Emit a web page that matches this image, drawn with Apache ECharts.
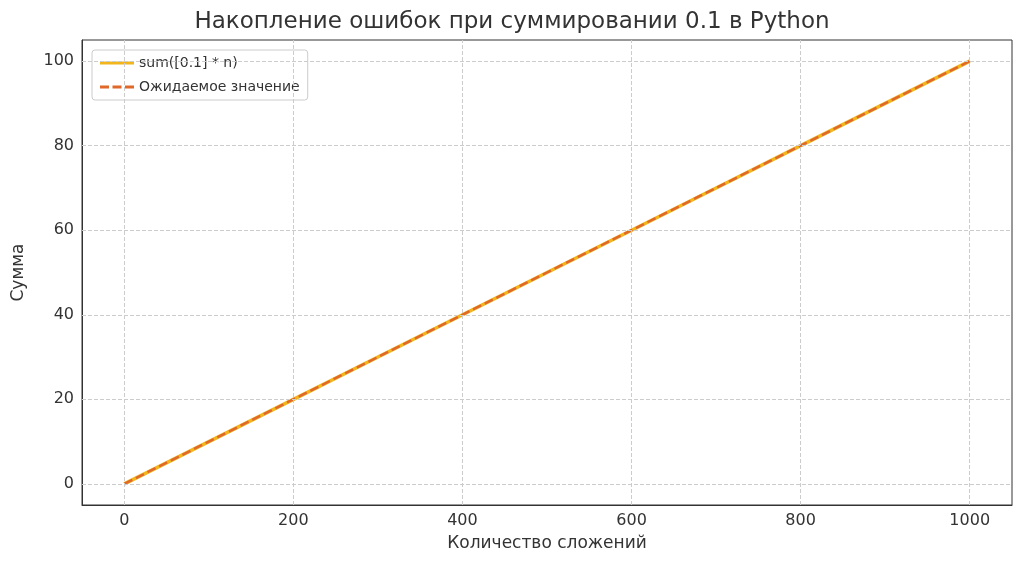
<!DOCTYPE html><html><head><meta charset="utf-8"><script src="https://cdn.jsdelivr.net/npm/echarts@6/dist/echarts.min.js"></script></head><body style="margin:0"><div id="c" style="width:1024px;height:569px"></div><script>
const nValues=[0,100,200,300,400,500,600,700,800,900,1000];
const sumValues=[0,10,20,30,40,50,60,70,80,90,100];
const expectedValues=[0,10,20,30,40,50,60,70,80,90,100];
const ch=echarts.init(document.getElementById('c'));
const f='DejaVu Sans';
function lab(v,step){return Math.abs(v%step)<1e-9?String(v):'';}
ch.setOption({
title:{text:'Накопление ошибок при суммировании 0.1 в Python',left:'center',top:6,textStyle:{fontFamily:f,fontSize:23,fontWeight:'normal',color:'#333'}},
legend:{left:92,top:50,orient:'vertical',itemWidth:34,itemGap:10,backgroundColor:'#fff',borderColor:'#ccc',borderWidth:1,borderRadius:3,padding:[6,8],textStyle:{fontFamily:f,fontSize:14,color:'#333'},data:[{name:'sum([0.1] * n)',icon:'path://M0,0h34v3h-34z'},{name:'Ожидаемое значение',icon:'path://M0,0h9v3h-9zM12.5,0h9v3h-9zM25,0h9v3h-9z'}]},
grid:{left:82,right:12,top:40,bottom:64,show:true,borderColor:'#333',borderWidth:1},
xAxis:{type:'value',min:-50,max:1050,interval:50,name:'Количество сложений',nameLocation:'middle',nameGap:30,nameTextStyle:{fontFamily:f,fontSize:17,color:'#333'},
axisLabel:{fontFamily:f,fontSize:16,color:'#333',formatter:v=>lab(v,200)},axisTick:{show:false},axisLine:{onZero:false,lineStyle:{color:'#333'}},
splitLine:{show:false}},
yAxis:{type:'value',min:-5,max:105,interval:5,name:'Сумма',nameLocation:'middle',nameGap:55,nameTextStyle:{fontFamily:f,fontSize:17,color:'#333'},
axisLabel:{fontFamily:f,fontSize:16,color:'#333',formatter:v=>lab(v,20)},axisTick:{show:false},axisLine:{show:true,onZero:false,lineStyle:{color:'#333'}},
splitLine:{show:false}},
series:[
{name:'sum([0.1] * n)',type:'line',showSymbol:false,data:nValues.map((n,i)=>[n,sumValues[i]]),lineStyle:{color:'#f2b51c',width:3.5},itemStyle:{color:'#f2b51c'}},
{name:'Ожидаемое значение',type:'line',showSymbol:false,data:nValues.map((n,i)=>[n,expectedValues[i]]),lineStyle:{color:'#e0692a',width:2.5,type:[9,4]},itemStyle:{color:'#e0692a'}},
{type:'line',silent:true,symbol:'none',data:[],markLine:{silent:true,symbol:'none',label:{show:false},lineStyle:{type:'dashed',color:'#ccc',width:1},
data:[0,200,400,600,800,1000].map(x=>({xAxis:x})).concat([0,20,40,60,80,100].map(y=>({yAxis:y})))}}
]});
</script></body></html>
